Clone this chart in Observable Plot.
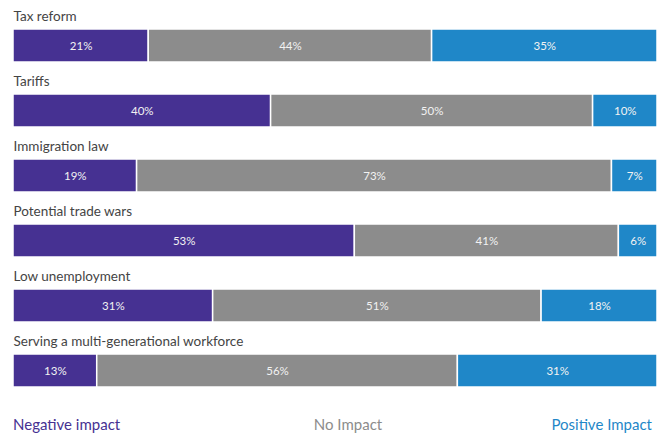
<!DOCTYPE html>
<html><head><meta charset="utf-8">
<script src="https://cdn.jsdelivr.net/npm/d3@7"></script>
<script src="https://cdn.jsdelivr.net/npm/@observablehq/plot@0.6"></script>
<style>
body{margin:0;background:#fff;font-family:Lato,"Open Sans",sans-serif;}
#legend{position:relative;width:662px;height:34px;font-size:15px;}
#legend span{position:absolute;top:15px;}
</style></head>
<body>
<div id="chart"></div>
<div id="legend"></div>
<script>
const categories = ["Tax reform","Tariffs","Immigration law","Potential trade wars","Low unemployment","Serving a multi-generational workforce"];
const impacts = ["Negative impact","No Impact","Positive Impact"];
const negative = [21,40,19,53,31,13];
const noImpact = [44,50,73,41,51,56];
const positive = [35,10,7,6,18,31];
const colors = ["#463192","#8c8c8c","#1f87c8"];

const series = [negative, noImpact, positive];
const rows = [];
categories.forEach((c,i)=>impacts.forEach((k,j)=>rows.push({category:c, impact:k, value:series[j][i]})));

const chart = Plot.plot({
  width: 662, height: 400,
  marginLeft: 13, marginRight: 5, marginTop: 29, marginBottom: 13,
  x: {domain:[0,1], axis:null},
  y: {domain: categories, axis:null, paddingInner: 1-33/65, paddingOuter: 0},
  color: {domain: impacts, range: colors},
  style: {fontFamily: "Lato, 'Open Sans', sans-serif"},
  marks: [
    Plot.barX(rows, Plot.stackX({x:"value", y:"category", fill:"impact", order: impacts, offset:"normalize", stroke:"white", strokeWidth:1.5})),
    Plot.text(rows, Plot.stackX({x:"value", y:"category", z:"impact", order: impacts, offset:"normalize", text: d=>d.value+"%", fill:"#f2f2f2", fontSize:11.5})),
    Plot.text(categories, {x: ()=>0, y: d=>d, text: d=>d, dy: -29.5, textAnchor:"start", fill:"#444", fontSize:13.5})
  ]
});
document.getElementById("chart").appendChild(chart);

const leg = document.getElementById("legend");
const pos = [{left:"13px"},{left:"348px",transform:"translateX(-50%)"},{right:"10px"}];
impacts.forEach((k,i)=>{
  const s = document.createElement("span");
  s.textContent = k; s.style.color = colors[i];
  Object.assign(s.style, pos[i]);
  leg.appendChild(s);
});
</script>
</body></html>
